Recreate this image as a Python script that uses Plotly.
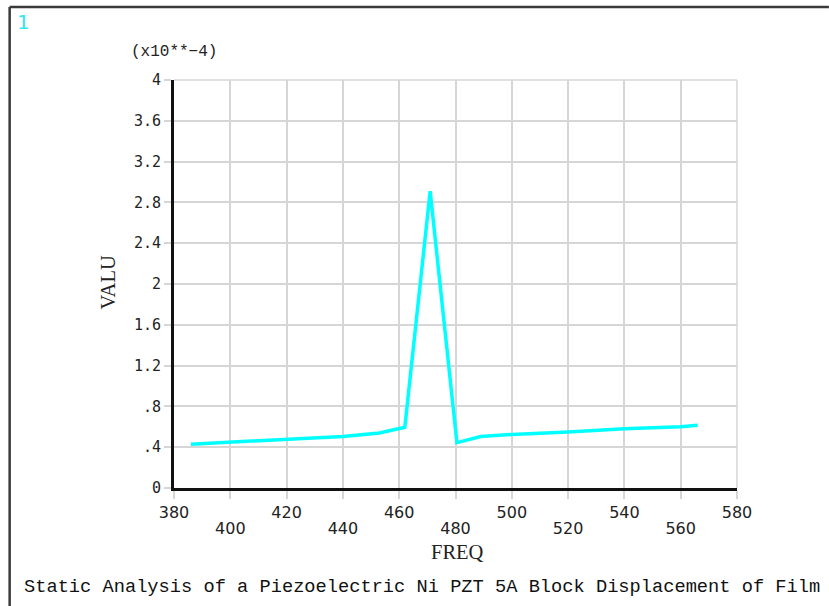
import plotly.graph_objects as go

# ---- data (values in units of 1e-4) ----
freq = [386, 400, 420, 440, 453, 462, 471, 480.5, 489, 500, 520, 540, 560, 566]
valu = [0.43, 0.45, 0.47, 0.505, 0.54, 0.595, 2.91, 0.445, 0.505, 0.525, 0.55, 0.58, 0.60, 0.615]

x_upper_ticks = [380, 420, 460, 500, 540, 580]
x_lower_ticks = [400, 440, 480, 520, 560]
y_tickvals = [0, 0.4, 0.8, 1.2, 1.6, 2.0, 2.4, 2.8, 3.2, 3.6, 4.0]
y_ticktext = ["0", ".4", ".8", "1.2", "1.6", "2", "2.4", "2.8", "3.2", "3.6", "4"]

title_text = "Static Analysis of a Piezoelectric Ni PZT 5A Block Displacement of Film"

W, H = 829, 606
L, R, T, B = 173.5, 737, 80, 488

def px(x):
    return (x - L) / (R - L)

def py(y):
    return (B - y) / (B - T)

fig = go.Figure()
fig.add_trace(go.Scatter(
    x=freq, y=valu, mode="lines",
    line=dict(color="#00ffff", width=3.5),
    showlegend=False, hoverinfo="skip",
))
# invisible helper trace so the second x axis (lower row of tick labels) is drawn
fig.add_trace(go.Scatter(
    x=[freq[0]], y=[valu[0]], xaxis="x2", mode="markers",
    marker=dict(opacity=0), showlegend=False, hoverinfo="skip",
))

grid = "#d6d6d6"
tickfont_x = dict(family="DejaVu Sans", size=16, color="#222222")
fig.update_layout(
    width=W, height=H,
    margin=dict(l=L, r=W - R, t=T, b=H - B, pad=0),
    paper_bgcolor="white", plot_bgcolor="white",
    xaxis=dict(
        range=[380, 580], tickmode="array",
        tickvals=x_upper_ticks + x_lower_ticks,
        ticktext=[str(v) for v in x_upper_ticks] + [" "] * len(x_lower_ticks),
        showgrid=True, gridcolor=grid, gridwidth=1.5,
        ticks="outside", ticklen=8, tickcolor=grid, tickwidth=1.5,
        showline=True, linecolor="#111111", linewidth=3,
        tickfont=tickfont_x,
        zeroline=False, fixedrange=True,
    ),
    xaxis2=dict(
        range=[380, 580], overlaying="x", side="bottom", anchor="y",
        tickmode="array", tickvals=x_lower_ticks,
        ticktext=[str(v) for v in x_lower_ticks],
        showgrid=False, showline=False, zeroline=False,
        ticks="outside", ticklen=8, tickcolor="rgba(0,0,0,0)",
        ticklabelstandoff=18,
        tickfont=tickfont_x, fixedrange=True,
    ),
    yaxis=dict(
        range=[0, 4], tickmode="array", tickvals=y_tickvals, ticktext=y_ticktext,
        showgrid=True, gridcolor=grid, gridwidth=1.5,
        ticks="outside", ticklen=7, tickcolor=grid, tickwidth=1.5,
        showline=True, linecolor="#111111", linewidth=3,
        tickfont=dict(family="DejaVu Sans Mono", size=15, color="#222222"),
        zeroline=False, fixedrange=True,
    ),
    shapes=[
        dict(type="line", xref="paper", yref="paper",
             x0=px(9), x1=px(829), y0=py(7), y1=py(7),
             line=dict(color="#3a3a3a", width=2.5)),
        dict(type="line", xref="paper", yref="paper",
             x0=px(9), x1=px(9), y0=py(7), y1=py(606),
             line=dict(color="#3a3a3a", width=2.5)),
        dict(type="line", xref="paper", yref="paper",
             x0=1, x1=1, y0=0, y1=1, layer="below",
             line=dict(color=grid, width=1.5)),
        dict(type="line", xref="paper", yref="paper",
             x0=0, x1=1, y0=1, y1=1, layer="below",
             line=dict(color=grid, width=1.5)),
    ],
    annotations=[
        dict(text="1", xref="paper", yref="paper", x=px(14), y=py(22),
             xanchor="left", yanchor="middle", showarrow=False,
             font=dict(family="DejaVu Sans", size=20, color="#33e6f0")),
        dict(text="(x10**\u22124)", xref="paper", yref="paper", x=px(173.5), y=py(52),
             xanchor="center", yanchor="middle", showarrow=False,
             font=dict(family="Liberation Mono", size=16, color="#222222")),
        dict(text="VALU", xref="paper", yref="paper", x=px(107), y=py(283),
             xanchor="center", yanchor="middle", showarrow=False, textangle=-90,
             font=dict(family="Liberation Serif", size=20.5, color="#222222")),
        dict(text="FREQ", xref="paper", yref="paper", x=px(457), y=py(552),
             xanchor="center", yanchor="middle", showarrow=False,
             font=dict(family="Liberation Serif", size=20.5, color="#222222")),
        dict(text=title_text, xref="paper", yref="paper", x=px(21), y=py(587),
             xanchor="left", yanchor="middle", showarrow=False,
             font=dict(family="Liberation Mono", size=18.7, color="#111111")),
    ],
)

fig.write_html("out.html", config={"displayModeBar": False})
